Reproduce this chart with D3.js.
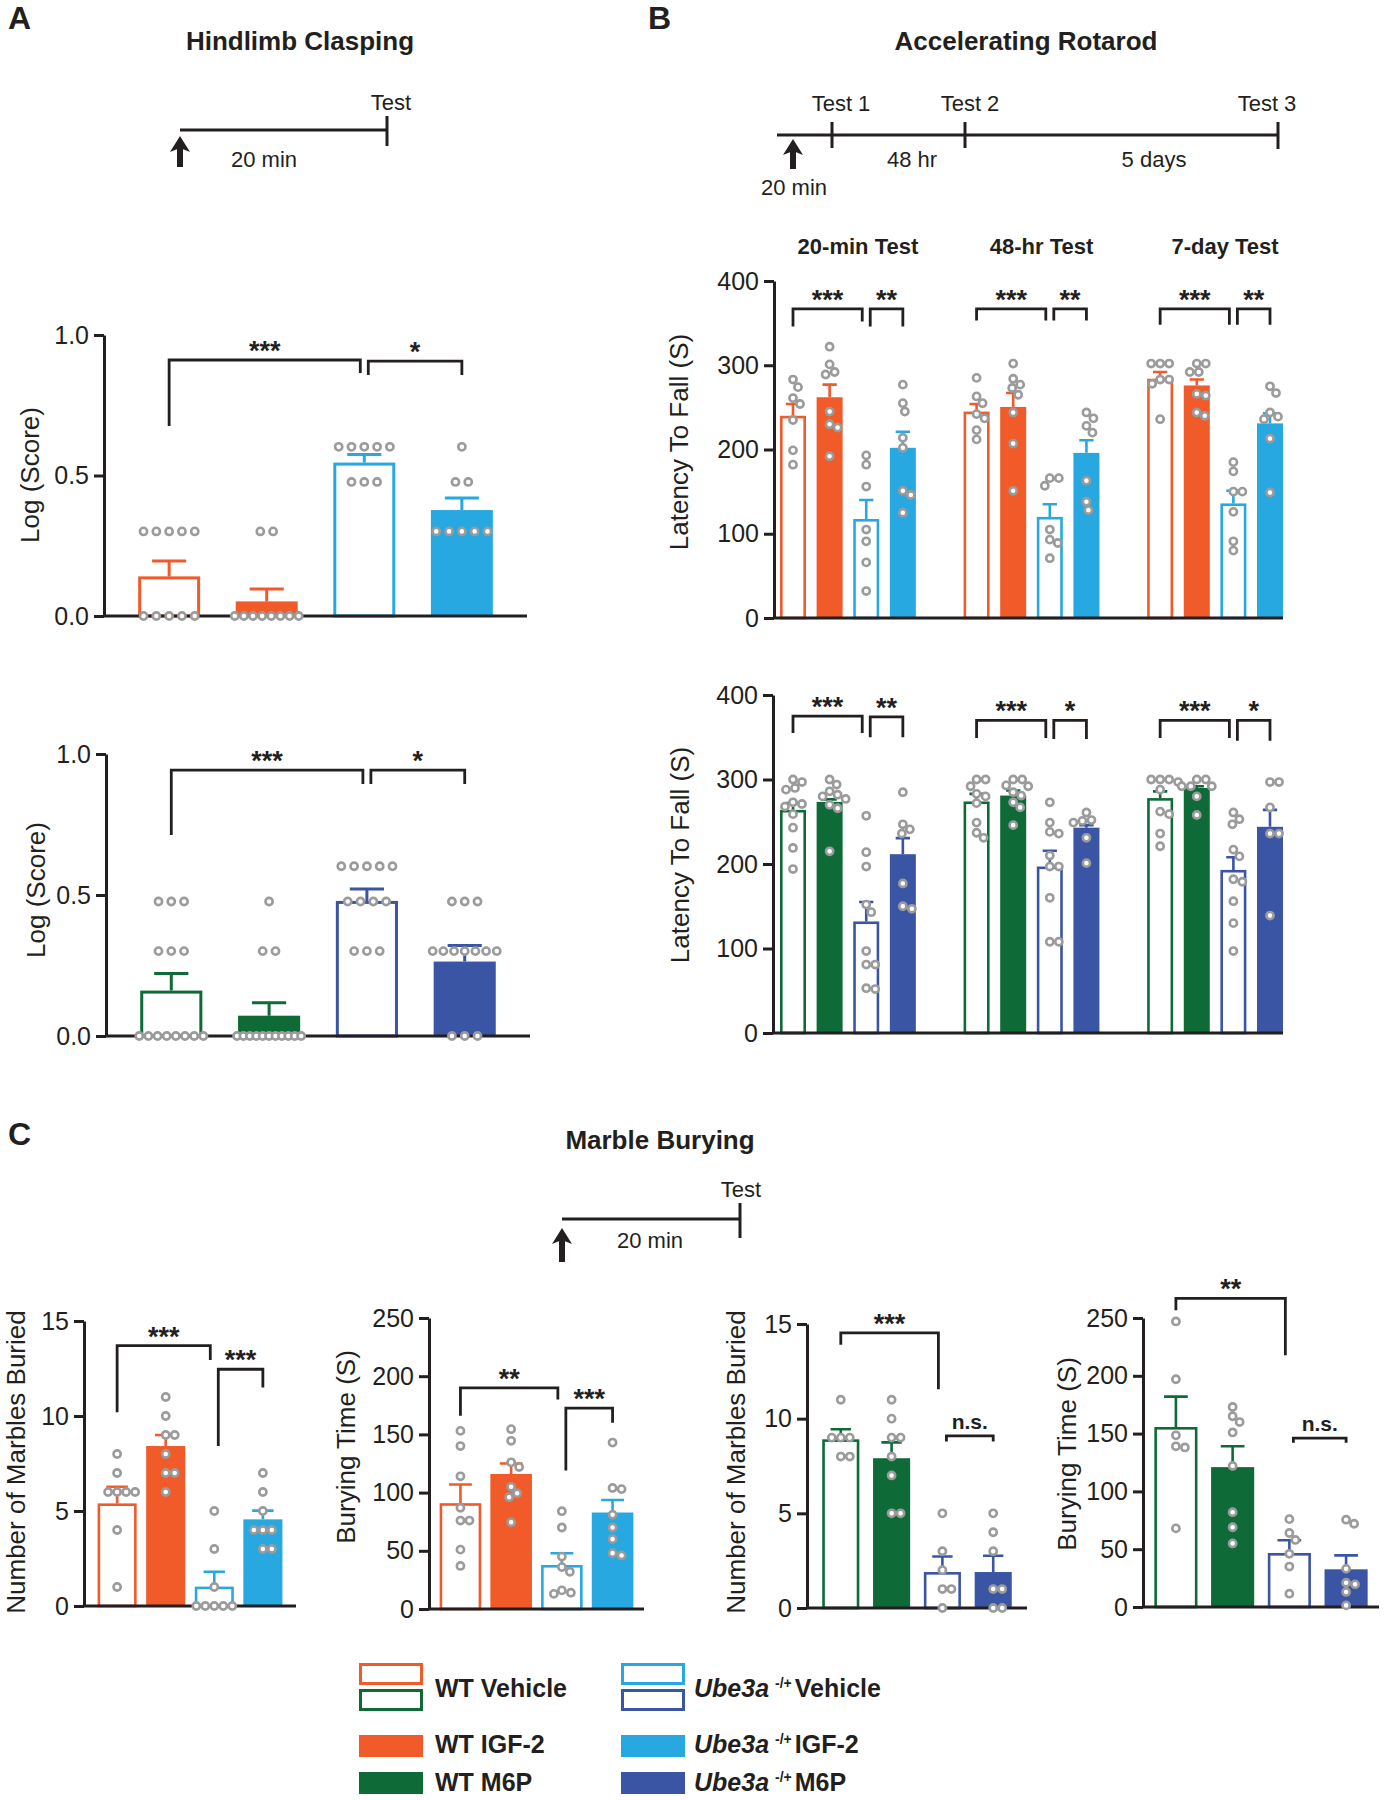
<!DOCTYPE html>
<html>
<head>
<meta charset="utf-8">
<script src="https://cdn.jsdelivr.net/npm/d3@7"></script>
<style>
  body { margin: 0; background: #fff; }
  svg text { font-family: "Liberation Sans", Arial, Helvetica, sans-serif; fill: #231f20; }
</style>
</head>
<body>
<svg id="fig" width="1384" height="1800"></svg>
<script>
/*-----------------------------------data-----------------------------------*/

const BAR_GROUPS = ["WT Vehicle", "WT Drug", "Ube3a Vehicle", "Ube3a Drug"];
const ROTAROD_TESTS = ["20-min Test", "48-hr Test", "7-day Test"];

const CLASP_TICKS = [0, 0.5, 1.0];
const ROTAROD_TICKS = [0, 100, 200, 300, 400];
const MARBLE_TICKS = [0, 5, 10, 15];
const BURY_TICKS = [0, 50, 100, 150, 200, 250];

// A - hindlimb clasping, IGF-2
const claspIgfMean = [0.141, 0.052, 0.546, 0.377];
const claspIgfSem = [0.055, 0.044, 0.029, 0.043];
const claspIgfDots = [
    [0.301, 0.301, 0.301, 0.301, 0.301, 0, 0, 0, 0, 0],
    [0.301, 0.301, 0, 0, 0, 0, 0, 0, 0, 0],
    [0.602, 0.602, 0.602, 0.602, 0.602, 0.477, 0.477, 0.477],
    [0.602, 0.477, 0.477, 0.301, 0.301, 0.301, 0.301, 0.301]
];
const claspIgfSig = [
    { from: 0, to: 2, top: 0.911, footA: 0.676, footB: 0.865, label: "***" },
    { from: 2, to: 3, top: 0.907, footA: 0.858, footB: 0.858, label: "*" }
];

// A - hindlimb clasping, M6P
const claspM6pMean = [0.161, 0.072, 0.479, 0.264];
const claspM6pSem = [0.061, 0.046, 0.042, 0.057];
const claspM6pDots = [
    [0.477, 0.477, 0.477, 0.301, 0.301, 0.301, 0, 0, 0, 0, 0, 0, 0, 0],
    [0.477, 0.301, 0.301, 0, 0, 0, 0, 0, 0, 0, 0, 0, 0, 0],
    [0.602, 0.602, 0.602, 0.602, 0.602, 0.477, 0.477, 0.477, 0.477, 0.301, 0.301, 0.301],
    [0.477, 0.477, 0.477, 0.301, 0.301, 0.301, 0.301, 0.301, 0.301, 0.301, 0, 0, 0]
];
const claspM6pSig = [
    { from: 0, to: 2, top: 0.943, footA: 0.713, footB: 0.894, label: "***" },
    { from: 2, to: 3, top: 0.943, footA: 0.894, footB: 0.894, label: "*" }
];

// B - rotarod, IGF-2 (one row per test)
const rotaIgfMean = [[240, 262, 117.5, 202], [245, 250.5, 120, 196], [284, 276, 136, 231]];
const rotaIgfSem = [[14, 15, 22.5, 19], [9, 16.5, 15, 15], [8, 7, 15, 12]];
const rotaIgfDots = [
    [[283, 274, 261, 254, 235, 199, 182], [322, 301, 292, 289, 245, 230, 226, 192],
     [193, 182, 156, 105, 91, 66, 32], [277, 255, 245, 214, 202, 151, 146, 125]],
    [[285, 263, 255, 242, 237, 223, 212], [302, 284, 277, 273, 265, 244, 207, 151],
     [166, 166, 157, 105, 93, 89, 71], [244, 237, 228, 220, 163, 138, 128]],
    [[302, 302, 302, 283, 278, 283, 236], [302, 302, 292, 292, 266, 264, 244, 240],
     [185, 174, 150, 150, 126, 91, 80], [275, 267, 244, 239, 236, 213, 149]]
];
const rotaIgfSig = [
    { set: 0, from: 0, to: 2, top: 367, footA: 346, footB: 352, label: "***" },
    { set: 0, from: 2, to: 3, top: 367, footA: 346, footB: 346, label: "**" },
    { set: 1, from: 0, to: 2, top: 367, footA: 353, footB: 353, label: "***" },
    { set: 1, from: 2, to: 3, top: 367, footA: 353, footB: 353, label: "**" },
    { set: 2, from: 0, to: 2, top: 367, footA: 348, footB: 348, label: "***" },
    { set: 2, from: 2, to: 3, top: 367, footA: 348, footB: 348, label: "**" }
];

// B - rotarod, M6P
const rotaM6pMean = [[264, 273.5, 132, 211.6], [274, 281, 197, 243], [278, 290, 193, 244]];
const rotaM6pSem = [[8, 3, 23, 19], [9, 6, 18.6, 3], [8, 2, 15, 20]];
const rotaM6pDots = [
    [[300, 297, 290, 288, 273, 271, 268, 259, 243, 219, 194], [300, 294, 286, 282, 280, 277, 270, 266, 215],
     [257, 214, 197, 152, 143, 97, 81, 81, 52, 53], [285, 247, 241, 236, 177, 147, 150]],
    [[300, 300, 292, 283, 280, 272, 249, 237, 231], [300, 300, 292, 293, 285, 281, 273, 267, 246],
     [273, 249, 236, 238, 210, 197, 197, 160, 108, 108], [261, 252, 251, 249, 231, 201]],
    [[300, 300, 300, 297, 288, 262, 259, 236, 221], [300, 300, 292, 292, 292, 280, 258],
     [261, 253, 247, 217, 209, 182, 179, 156, 130, 97], [297, 297, 267, 236, 236, 139]]
];
const rotaM6pSig = [
    { set: 0, from: 0, to: 2, top: 375, footA: 355, footB: 355, label: "***" },
    { set: 0, from: 2, to: 3, top: 374, footA: 350, footB: 350, label: "**" },
    { set: 1, from: 0, to: 2, top: 370, footA: 349, footB: 349, label: "***" },
    { set: 1, from: 2, to: 3, top: 370, footA: 348, footB: 348, label: "*" },
    { set: 2, from: 0, to: 2, top: 370, footA: 349, footB: 349, label: "***" },
    { set: 2, from: 2, to: 3, top: 370, footA: 346, footB: 346, label: "*" }
];

// C - marble burying, IGF-2
const marbleIgfMean = [5.4, 8.42, 1.02, 4.56];
const marbleIgfSem = [0.88, 0.58, 0.78, 0.46];
const marbleIgfDots = [[8, 7, 6, 6, 6, 6, 4, 1], [11, 10, 9, 9, 8, 7, 7, 6], [5, 3, 1, 0, 0, 0, 0, 0], [7, 6, 5, 4, 4, 4, 3, 3]];
const marbleIgfSig = [
    { from: 0, to: 2, top: 13.7, footA: 10.2, footB: 12.95, label: "***" },
    { from: 2, to: 3, top: 12.46, footA: 8.42, footB: 11.5, label: "***" }
];

const buryIgfMean = [90.9, 116, 37.8, 82.9];
const buryIgfSem = [16.1, 9, 10.1, 10.8];
const buryIgfDots = [[153, 140, 114, 87, 76, 76, 51, 37], [154.5, 144.5, 126, 122, 105, 99.5, 96, 74.5],
    [84, 70, 45, 36, 32, 16, 14, 13], [143, 104, 103, 81, 70, 60, 48, 46]];
const buryIgfSig = [
    { from: 0, to: 2, top: 190, footA: 166, footB: 180, label: "**" },
    { from: 2, to: 3, top: 172.6, footA: 119, footB: 160, label: "***" }
];

// C - marble burying, M6P
const marbleM6pMean = [8.91, 7.91, 1.9, 1.9];
const marbleM6pSem = [0.53, 0.84, 0.82, 0.86];
const marbleM6pDots = [[11, 9, 9, 9, 8, 8], [11, 10, 9, 9, 8, 7, 5, 5], [5, 3, 2, 1, 1, 0], [5, 4, 3, 1, 1, 0, 0]];
const marbleM6pSig = [
    { from: 0, to: 2, top: 14.53, footA: 13.9, footB: 11.55, label: "***" },
    { from: 2, to: 3, top: 9.09, footA: 8.79, footB: 8.79, label: "n.s." }
];

const buryM6pMean = [155.7, 121, 46.7, 32.6];
const buryM6pSem = [26.3, 18, 11, 12.1];
const buryM6pDots = [[247, 197, 148.5, 139, 138, 68], [173, 165, 160, 151, 122, 82, 69, 55],
    [76, 64, 58, 46, 35, 11.5], [75.5, 72, 33, 21, 19.6, 13, 1.4]];
const buryM6pSig = [
    { from: 0, to: 2, top: 267, footA: 256.6, footB: 217.7, label: "**" },
    { from: 2, to: 3, top: 146, footA: 142, footB: 142, label: "n.s." }
];

/*-----------------------------------init-----------------------------------*/

const INK = "#231f20";
const DOT_GREY = "#9b9b9b";
const ORANGE = "#f15a29";
const SKY = "#27a8e0";
const GREEN = "#0e6b38";
const NAVY = "#3b55a5";
const IGF_COLORS = [ORANGE, ORANGE, SKY, SKY];
const M6P_COLORS = [GREEN, GREEN, NAVY, NAVY];

const svg = d3.select("#fig");

//dot layout: rows of equal values (panel A) or a small beeswarm
function placeDots(vals, cx, y, bw, mode) {
    const out = [];
    if (mode === "rows") {
        const byVal = d3.group(vals, v => v);
        for (const [v, arr] of byVal) {
            const n = arr.length;
            const sp = n > 1 ? Math.min(12.8, (bw + 2) / (n - 1)) : 0;
            arr.forEach((_, i) => out.push({ x: cx + (i - (n - 1) / 2) * sp, y: y(v) }));
        }
        return out;
    }
    const D = 8.6;
    [...vals].sort((a, b) => b - a).forEach(v => {
        const py = y(v);
        for (let k = 0; k < 80; k++) {
            const dx = (k % 2 ? 1 : -1) * Math.ceil(k / 2);
            const hit = out.some(p => (p.x - cx - dx) ** 2 + (p.y - py) ** 2 < D * D);
            if (!hit) { out.push({ x: cx + dx, y: py }); break; }
        }
    });
    return out;
}

function barChart(o) {
    const g = svg.append("g");
    const y = d3.scaleLinear().domain([0, o.max]).range([o.yBot, o.yTop]);
    const grouped = !!o.sets;
    const sets = grouped ? o.sets : [""];
    const means = grouped ? o.mean : [o.mean];
    const sems = grouped ? o.sem : [o.sem];
    const dots = grouped ? o.dots : [o.dots];

    const outer = d3.scaleBand().domain(d3.range(sets.length))
        .range(o.groupRange || [o.x0, o.x1]).paddingInner(o.groupPad || 0).paddingOuter(0);
    const inner = d3.scaleBand().domain(d3.range(BAR_GROUPS.length))
        .range([0, outer.bandwidth()]).paddingInner(o.pi).paddingOuter(o.po);
    const bw = inner.bandwidth();
    const cx = (s, i) => outer(s) + inner(i) + bw / 2;
    const sw = o.sw;

    //bars
    means.forEach((row, s) => row.forEach((m, i) => {
        const open = i % 2 === 0;
        const c = o.colors[i];
        const x = outer(s) + inner(i);
        if (open) {
            g.append("rect").attr("x", x + sw / 2).attr("y", y(m) + sw / 2)
                .attr("width", bw - sw).attr("height", Math.max(0, y(0) - y(m) - sw / 2))
                .attr("fill", "#fff").attr("stroke", c).attr("stroke-width", sw);
        } else {
            g.append("rect").attr("x", x).attr("y", y(m))
                .attr("width", bw).attr("height", y(0) - y(m)).attr("fill", c);
        }
        //error bar (upper only)
        const e = sems[s][i];
        const cw = bw * 0.55;
        g.append("path")
            .attr("d", `M${cx(s, i)},${y(m)}V${y(m + e)}M${cx(s, i) - cw / 2},${y(m + e)}H${cx(s, i) + cw / 2}`)
            .attr("stroke", c).attr("stroke-width", sw).attr("fill", "none");
    }));

    //x axis
    g.append("line").attr("x1", o.x0).attr("x2", o.x1).attr("y1", o.yBot).attr("y2", o.yBot)
        .attr("stroke", INK).attr("stroke-width", 3);

    //y axis
    const yAxis = d3.axisLeft(y).tickValues(o.ticks).tickFormat(o.fmt)
        .tickSize(10).tickSizeOuter(0).tickPadding(5);
    g.append("g").attr("transform", `translate(${o.x0},0)`).call(yAxis)
        .attr("font-size", 25).attr("font-family", null)
        .call(a => a.select(".domain").attr("stroke", INK).attr("stroke-width", 3))
        .call(a => a.selectAll(".tick line").attr("stroke", INK).attr("stroke-width", 3))
        .call(a => a.selectAll(".tick text").attr("fill", INK));

    g.append("text").attr("transform", `translate(${o.labelX},${o.labelY}) rotate(-90)`)
        .attr("text-anchor", "middle").attr("font-size", 26).text(o.label);

    //subtitles for grouped charts
    if (grouped && o.subY) {
        sets.forEach((t, s) => g.append("text").attr("x", outer(s) + outer.bandwidth() / 2 + 10)
            .attr("y", o.subY).attr("text-anchor", "middle").attr("font-size", 22)
            .attr("font-weight", "bold").text(t));
    }

    //individual animals
    dots.forEach((row, s) => row.forEach((vals, i) => {
        g.selectAll(null).data(placeDots(vals, cx(s, i), y, bw, o.dotMode)).enter()
            .append("circle").attr("cx", d => d.x).attr("cy", d => d.y).attr("r", 3.6)
            .attr("fill", "#fff").attr("stroke", DOT_GREY).attr("stroke-width", 2.6);
    }));

    //significance brackets
    const sig = o.sig.map(b => ({ ...b, set: b.set || 0 }));
    sig.forEach(b => { b.xa = cx(b.set, b.from); b.xb = cx(b.set, b.to); });
    sig.forEach(b => sig.forEach(c => {
        if (b !== c && b.set === c.set && b.to === c.from) { b.xb -= 4; c.xa += 4; }
    }));
    sig.forEach(b => {
        g.append("path")
            .attr("d", `M${b.xa},${y(b.footA)}V${y(b.top)}H${b.xb}V${y(b.footB)}`)
            .attr("fill", "none").attr("stroke", INK).attr("stroke-width", 2.8);
        const ns = b.label === "n.s.";
        g.append("text").attr("x", (b.xa + b.xb) / 2).attr("y", y(b.top) - (ns ? 7 : 0))
            .attr("text-anchor", "middle").attr("font-size", ns ? 21 : 27)
            .attr("font-weight", "bold").text(b.label);
    });
}

//timeline helpers
function hline(x1, x2, y) {
    svg.append("line").attr("x1", x1).attr("x2", x2).attr("y1", y).attr("y2", y)
        .attr("stroke", INK).attr("stroke-width", 3);
}
function vtick(x, y1, y2) {
    svg.append("line").attr("x1", x).attr("x2", x).attr("y1", y1).attr("y2", y2)
        .attr("stroke", INK).attr("stroke-width", 3);
}
function arrow(x, tip, bottom) {
    svg.append("line").attr("x1", x).attr("x2", x).attr("y1", tip + 12).attr("y2", bottom)
        .attr("stroke", INK).attr("stroke-width", 6);
    svg.append("path").attr("d", `M${x - 10},${tip + 16}L${x},${tip}L${x + 10},${tip + 16}L${x},${tip + 12}Z`).attr("fill", INK);
}
function label(x, y, txt, size, weight, anchor) {
    return svg.append("text").attr("x", x).attr("y", y).attr("font-size", size)
        .attr("font-weight", weight || "normal").attr("text-anchor", anchor || "middle").text(txt);
}

/*-----------------------------------panel A-----------------------------------*/

label(8, 29, "A", 32, "bold", "start");
label(300, 50, "Hindlimb Clasping", 26, "bold");
hline(180, 387, 130);
vtick(387, 116, 146);
label(391, 110, "Test", 22);
arrow(180, 136, 167);
label(264, 167, "20 min", 22);

barChart({
    x0: 104, x1: 527, yTop: 335, yBot: 616, max: 1.0, ticks: CLASP_TICKS, fmt: d3.format(".1f"),
    pi: 0.365, po: 0.35, sw: 3, colors: IGF_COLORS, dotMode: "rows",
    mean: claspIgfMean, sem: claspIgfSem, dots: claspIgfDots, sig: claspIgfSig,
    label: "Log (Score)", labelX: 39, labelY: 475
});
barChart({
    x0: 106, x1: 530, yTop: 754, yBot: 1036, max: 1.0, ticks: CLASP_TICKS, fmt: d3.format(".1f"),
    pi: 0.365, po: 0.35, sw: 3, colors: M6P_COLORS, dotMode: "rows",
    mean: claspM6pMean, sem: claspM6pSem, dots: claspM6pDots, sig: claspM6pSig,
    label: "Log (Score)", labelX: 45, labelY: 890
});

/*-----------------------------------panel B-----------------------------------*/

label(648, 29, "B", 32, "bold", "start");
label(1026, 50, "Accelerating Rotarod", 26, "bold");
hline(777, 1278, 135);
vtick(832, 122, 148);
vtick(965, 122, 148);
vtick(1278, 122, 149);
label(841, 111, "Test 1", 22);
label(970, 111, "Test 2", 22);
label(1267, 111, "Test 3", 22);
label(912, 167, "48 hr", 22);
label(1154, 167, "5 days", 22);
arrow(793, 139, 169);
label(794, 195, "20 min", 22);

barChart({
    x0: 774, x1: 1283, groupRange: [780, 1283], groupPad: 0.26, yTop: 281, yBot: 618, max: 400,
    ticks: ROTAROD_TICKS, fmt: d3.format("d"), pi: 0.29, po: 0, sw: 2.6, colors: IGF_COLORS,
    sets: ROTAROD_TESTS, subY: 254, dotMode: "swarm",
    mean: rotaIgfMean, sem: rotaIgfSem, dots: rotaIgfDots, sig: rotaIgfSig,
    label: "Latency To Fall (S)", labelX: 688, labelY: 442
});
barChart({
    x0: 773, x1: 1283, groupRange: [780, 1283], groupPad: 0.26, yTop: 695, yBot: 1033, max: 400,
    ticks: ROTAROD_TICKS, fmt: d3.format("d"), pi: 0.29, po: 0, sw: 2.6, colors: M6P_COLORS,
    sets: ROTAROD_TESTS, dotMode: "swarm",
    mean: rotaM6pMean, sem: rotaM6pSem, dots: rotaM6pDots, sig: rotaM6pSig,
    label: "Latency To Fall (S)", labelX: 689, labelY: 855
});

/*-----------------------------------panel C-----------------------------------*/

label(8, 1145, "C", 32, "bold", "start");
label(660, 1149, "Marble Burying", 26, "bold");
hline(562, 740, 1219);
vtick(740, 1203, 1238);
label(741, 1197, "Test", 22);
arrow(562, 1228, 1262);
label(650, 1248, "20 min", 22);

barChart({
    x0: 84, x1: 296, yTop: 1321, yBot: 1606, max: 15, ticks: MARBLE_TICKS, fmt: d3.format("d"),
    pi: 0.196, po: 0.28, sw: 2.6, colors: IGF_COLORS, dotMode: "swarm",
    mean: marbleIgfMean, sem: marbleIgfSem, dots: marbleIgfDots, sig: marbleIgfSig,
    label: "Number of Marbles Buried", labelX: 25, labelY: 1462
});
barChart({
    x0: 429, x1: 644, yTop: 1318, yBot: 1609, max: 250, ticks: BURY_TICKS, fmt: d3.format("d"),
    pi: 0.18, po: 0.21, sw: 2.6, colors: IGF_COLORS, dotMode: "swarm",
    mean: buryIgfMean, sem: buryIgfSem, dots: buryIgfDots, sig: buryIgfSig,
    label: "Burying Time (S)", labelX: 355, labelY: 1447
});
barChart({
    x0: 807, x1: 1027, yTop: 1324, yBot: 1608, max: 15, ticks: MARBLE_TICKS, fmt: d3.format("d"),
    pi: 0.27, po: 0.30, sw: 2.6, colors: M6P_COLORS, dotMode: "swarm",
    mean: marbleM6pMean, sem: marbleM6pSem, dots: marbleM6pDots, sig: marbleM6pSig,
    label: "Number of Marbles Buried", labelX: 745, labelY: 1462
});
barChart({
    x0: 1143, x1: 1379, yTop: 1318, yBot: 1607, max: 250, ticks: BURY_TICKS, fmt: d3.format("d"),
    pi: 0.24, po: 0.2, sw: 2.6, colors: M6P_COLORS, dotMode: "swarm",
    mean: buryM6pMean, sem: buryM6pSem, dots: buryM6pDots, sig: buryM6pSig,
    label: "Burying Time (S)", labelX: 1076, labelY: 1454
});

/*-----------------------------------legend-----------------------------------*/

function swatch(x, y, color, open) {
    if (open) {
        svg.append("rect").attr("x", x + 1.5).attr("y", y + 1.5).attr("width", 61).attr("height", 19)
            .attr("fill", "#fff").attr("stroke", color).attr("stroke-width", 3);
    } else {
        svg.append("rect").attr("x", x).attr("y", y).attr("width", 64).attr("height", 22).attr("fill", color);
    }
}
function ubeLabel(x, y, treatment) {
    const t = svg.append("text").attr("x", x).attr("y", y).attr("font-size", 25).attr("font-weight", "bold");
    t.append("tspan").attr("font-style", "italic").text("Ube3a");
    t.append("tspan").attr("font-size", 14).attr("dy", -9).attr("dx", 6).text("-/+");
    t.append("tspan").attr("dy", 9).attr("dx", 3).text(treatment);
}

swatch(359, 1663, ORANGE, true);
swatch(359, 1689, GREEN, true);
label(435, 1697, "WT Vehicle", 25, "bold", "start");
swatch(359, 1735, ORANGE, false);
label(435, 1753, "WT IGF-2", 25, "bold", "start");
swatch(359, 1772, GREEN, false);
label(435, 1791, "WT M6P", 25, "bold", "start");

swatch(621, 1663, SKY, true);
swatch(621, 1689, NAVY, true);
ubeLabel(694, 1697, "Vehicle");
swatch(621, 1735, SKY, false);
ubeLabel(694, 1753, "IGF-2");
swatch(621, 1772, NAVY, false);
ubeLabel(694, 1791, "M6P");
</script>
</body>
</html>
